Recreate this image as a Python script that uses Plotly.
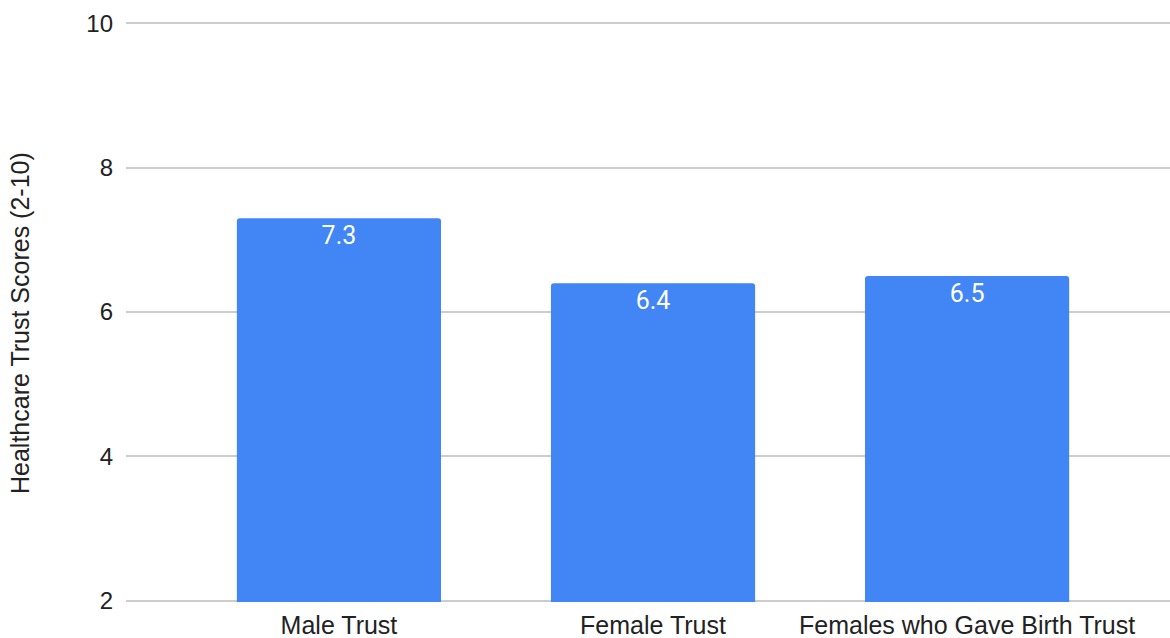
import plotly.graph_objects as go

categories = ["Male Trust", "Female Trust", "Females who Gave Birth Trust"]
scores = [7.3, 6.4, 6.5]
y_ticks = [2, 4, 6, 8, 10]
y_title = "Healthcare Trust Scores (2-10)"

fig = go.Figure(
    go.Bar(
        x=categories,
        y=scores,
        width=0.65,
        marker=dict(color="#4285F4", line=dict(width=0), cornerradius=3),
        text=[f"{v:.1f}" for v in scores],
        textposition="inside",
        insidetextanchor="end",
        textfont=dict(family="Roboto, Arial, sans-serif", size=25, color="#ffffff"),
        cliponaxis=True,
    )
)

fig.update_layout(
    width=1170,
    height=638,
    margin=dict(l=126, r=0, t=22, b=36, pad=0),
    plot_bgcolor="#ffffff",
    paper_bgcolor="#ffffff",
    showlegend=False,
    font=dict(family="Liberation Sans, Arial, sans-serif", size=24, color="#222222"),
)

fig.update_xaxes(
    type="category",
    range=[-0.678, 2.646],
    showgrid=False,
    showline=False,
    zeroline=False,
    ticks="",
    ticklabelstandoff=6,
    tickfont=dict(size=25, color="#222222"),
    automargin=False,
)

fig.update_yaxes(
    range=[1.98, 10.02],
    tickvals=y_ticks,
    showgrid=True,
    gridcolor="#cccccc",
    gridwidth=1.5,
    zeroline=False,
    showline=False,
    ticks="",
    ticklabelstandoff=12,
    tickfont=dict(size=24, color="#222222"),
    automargin=False,
)

# Vertical axis title, placed in the left margin
fig.add_annotation(
    text=y_title,
    textangle=-90,
    xref="paper",
    yref="paper",
    x=0,
    y=0.5,
    xanchor="center",
    yanchor="middle",
    xshift=-106,
    yshift=-11,
    showarrow=False,
    font=dict(family="Liberation Sans, Arial, sans-serif", size=25, color="#222222"),
)

fig.write_html("out.html")
